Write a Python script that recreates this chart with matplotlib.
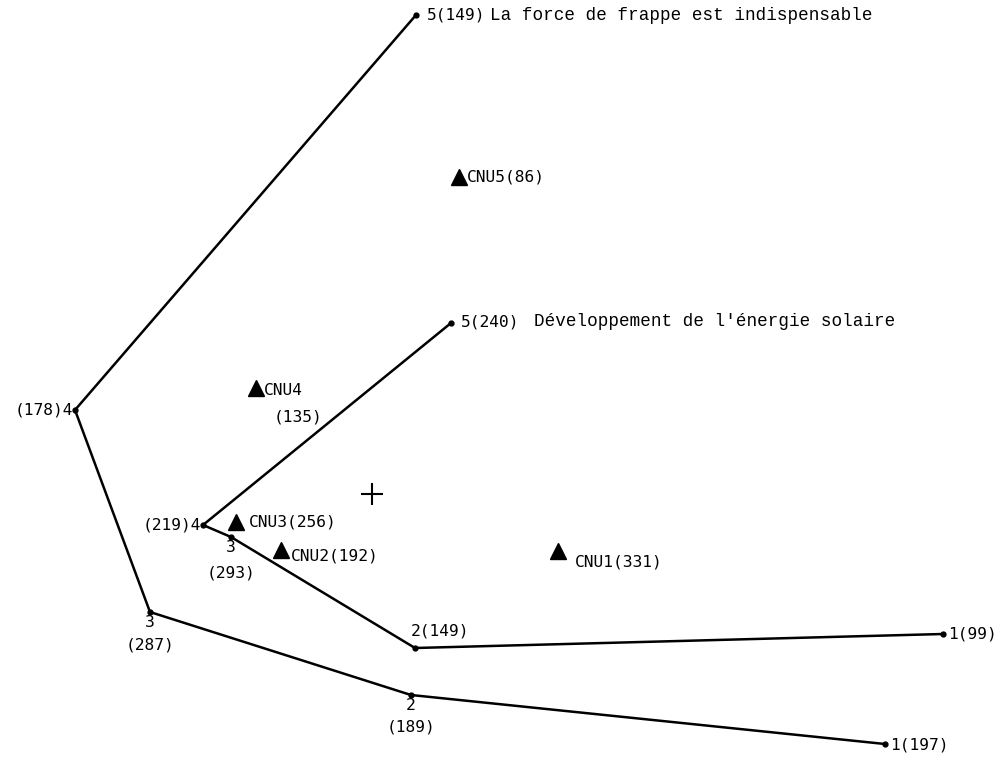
import matplotlib.pyplot as plt

# Positions on the factor plane (picture units, y grows downward)
frappe_x = [416, 75, 150, 411, 885]
frappe_y = [15, 410, 612, 695, 744]
frappe_rank = ['5', '4', '3', '2', '1']
frappe_n = [149, 178, 287, 189, 197]
frappe_text = 'La force de frappe est indispensable'

solaire_x = [451, 203, 231, 415, 943]
solaire_y = [323, 525, 537, 648, 634]
solaire_rank = ['5', '4', '3', '2', '1']
solaire_n = [240, 219, 293, 149, 99]
solaire_text = "Développement de l'énergie solaire"

cnu_x = [558, 281, 236, 256, 459]
cnu_y = [551, 550, 522, 388, 177]
cnu_names = ['CNU1', 'CNU2', 'CNU3', 'CNU4', 'CNU5']
cnu_n = [331, 192, 256, 135, 86]

origin_x = [372]
origin_y = [494]

MONO = 'DejaVu Sans Mono'
TYPE = 'Liberation Mono'
fs = 11.7
fs_long = 12.7


def point_label(ax, x, y, text, dx, dy, ha='left', va='center', size=fs, family=MONO):
    ax.annotate(text, (x, y), xytext=(dx, dy), textcoords='offset points',
                ha=ha, va=va, fontsize=size, family=family)


fig = plt.figure(figsize=(10, 7.6), dpi=100)
ax = fig.add_axes([0, 0, 1, 1])
ax.set_xlim(0, 1000)
ax.set_ylim(760, 0)
ax.axis('off')

# the two questionnaire items
ax.plot(frappe_x, frappe_y, color='black', lw=1.8, marker='o', ms=3.5)
ax.plot(solaire_x, solaire_y, color='black', lw=1.8, marker='o', ms=3.5)

# CNU sections
ax.plot(cnu_x, cnu_y, ls='none', marker='^', ms=12, color='black')

# centre of gravity
ax.plot(origin_x, origin_y, ls='none', marker='+', ms=16, mew=1.5, color='black')

# labels, force de frappe
r, n = frappe_rank, frappe_n
point_label(ax, frappe_x[0], frappe_y[0], f'{r[0]}({n[0]})', 8, 0)
point_label(ax, frappe_x[0], frappe_y[0], frappe_text, 53, 0, size=fs_long, family=TYPE)
point_label(ax, frappe_x[1], frappe_y[1], f'({n[1]}){r[1]}', -1, 0, ha='right')
point_label(ax, frappe_x[2], frappe_y[2], r[2], 0, -2, ha='center', va='top')
point_label(ax, frappe_x[2], frappe_y[2], f'({n[2]})', 0, -24, ha='center', va='center')
point_label(ax, frappe_x[3], frappe_y[3], r[3], 0, -2, ha='center', va='top')
point_label(ax, frappe_x[3], frappe_y[3], f'({n[3]})', 0, -23, ha='center', va='center')
point_label(ax, frappe_x[4], frappe_y[4], f'{r[4]}({n[4]})', 4, -1)

# labels, energie solaire
r, n = solaire_rank, solaire_n
point_label(ax, solaire_x[0], solaire_y[0], f'{r[0]}({n[0]})', 7, 1)
point_label(ax, solaire_x[0], solaire_y[0], solaire_text, 60, 1, size=fs_long, family=TYPE)
point_label(ax, solaire_x[1], solaire_y[1], f'({n[1]}){r[1]}', -1, 0, ha='right')
point_label(ax, solaire_x[2], solaire_y[2], r[2], 0, -2, ha='center', va='top')
point_label(ax, solaire_x[2], solaire_y[2], f'({n[2]})', 0, -26, ha='center', va='center')
point_label(ax, solaire_x[3], solaire_y[3], f'{r[3]}({n[3]})', -3, 12)
point_label(ax, solaire_x[4], solaire_y[4], f'{r[4]}({n[4]})', 4, 0)

# labels, CNU
point_label(ax, cnu_x[0], cnu_y[0], f'{cnu_names[0]}({cnu_n[0]})', 12, -8)
point_label(ax, cnu_x[1], cnu_y[1], f'{cnu_names[1]}({cnu_n[1]})', 7, -4)
point_label(ax, cnu_x[2], cnu_y[2], f'{cnu_names[2]}({cnu_n[2]})', 9, 0)
point_label(ax, cnu_x[3], cnu_y[3], cnu_names[3], 6, -2)
point_label(ax, cnu_x[3], cnu_y[3], f'({cnu_n[3]})', 13, -21)
point_label(ax, cnu_x[4], cnu_y[4], f'{cnu_names[4]}({cnu_n[4]})', 6, 0)

fig.savefig('out.png', dpi=100)
